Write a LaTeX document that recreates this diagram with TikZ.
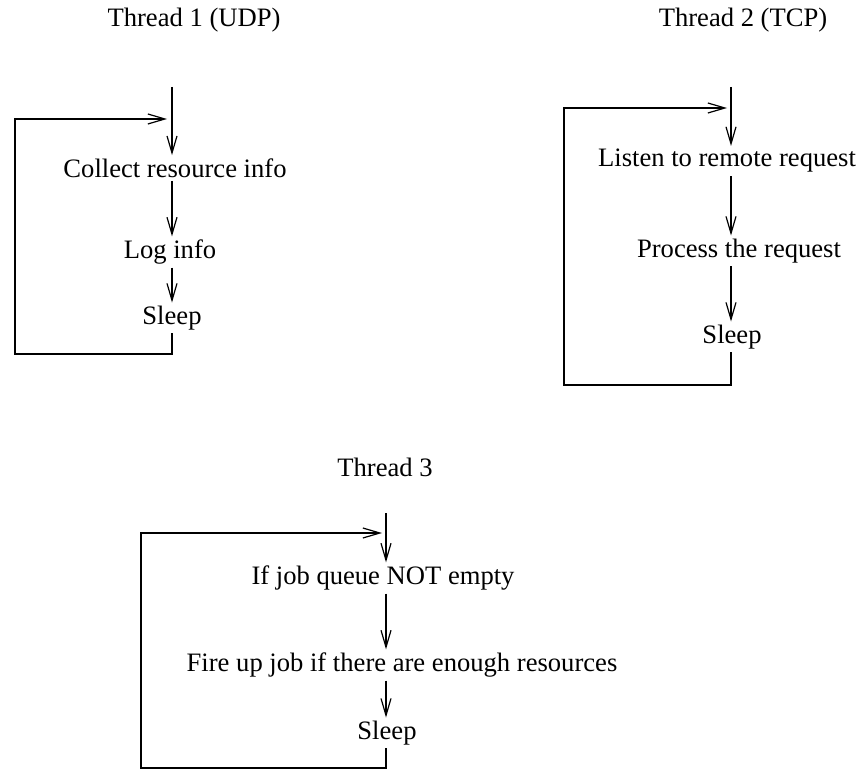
\documentclass[tikz,border=0pt]{standalone}
\usepackage{fontspec}
\setmainfont{Liberation Serif}
\usepackage{tikz}
\usetikzlibrary{arrows.meta,positioning,calc}
\tikzset{
  task/.style={font=\fontsize{13.3}{15}\selectfont,inner xsep=2pt,inner ysep=1.5pt},
  flow/.style={line width=0.6pt,-{Straight Barb[length=8.5pt,width=5pt]}},
}

\begin{document}
\begin{tikzpicture}[x=0.5pt,y=-0.5pt]
  \useasboundingbox (0,0) rectangle (865,770);

  % Thread 1: UDP loop
  \node[task] (title1) at (194,20) {Thread 1 (UDP)};
  \coordinate (t1top) at (172,87);
  \node[task] (collect) at (175,168) {Collect resource info};
  \node[task] (loginfo) at (170,252) {Log info};
  \node[task] (sleep1) at (172,318) {Sleep};
  \coordinate (t1corner) at (15,354);
  \coordinate (t1hook) at (167,119);
  \draw[flow] (t1top) -- (collect.north -| t1top);
  \draw[flow] (collect.south -| t1top) -- (loginfo.north -| t1top);
  \draw[flow] (loginfo.south -| t1top) -- (sleep1.north -| t1top);
  \draw[flow] (sleep1.south -| t1top) |- (t1corner) |- (t1hook);

  % Thread 2: TCP loop
  \node[task] (title2) at (743,20) {Thread 2 (TCP)};
  \coordinate (t2top) at (731,87);
  \node[task] (listen) at (727,161) {Listen to remote request};
  \node[task] (process) at (739,251) {Process the request};
  \node[task] (sleep2) at (732,337) {Sleep};
  \coordinate (t2corner) at (564,385);
  \coordinate (t2hook) at (727,108);
  \draw[flow] (t2top) -- (listen.north -| t2top);
  \draw[flow] (listen.south -| t2top) -- (process.north -| t2top);
  \draw[flow] (process.south -| t2top) -- (sleep2.north -| t2top);
  \draw[flow] (sleep2.south -| t2top) |- (t2corner) |- (t2hook);

  % Thread 3: job loop
  \node[task] (title3) at (385,467) {Thread 3};
  \coordinate (t3top) at (386,513);
  \node[task] (queue) at (383,578) {If job queue NOT empty};
  \node[task] (fire) at (402,665) {Fire up job if there are enough resources};
  \node[task] (sleep3) at (387,733) {Sleep};
  \coordinate (t3corner) at (141,768);
  \coordinate (t3hook) at (382,533);
  \draw[flow] (t3top) -- (queue.north -| t3top);
  \draw[flow] (queue.south -| t3top) -- (fire.north -| t3top);
  \draw[flow] (fire.south -| t3top) -- (sleep3.north -| t3top);
  \draw[flow] (sleep3.south -| t3top) |- (t3corner) |- (t3hook);
\end{tikzpicture}
\end{document}
